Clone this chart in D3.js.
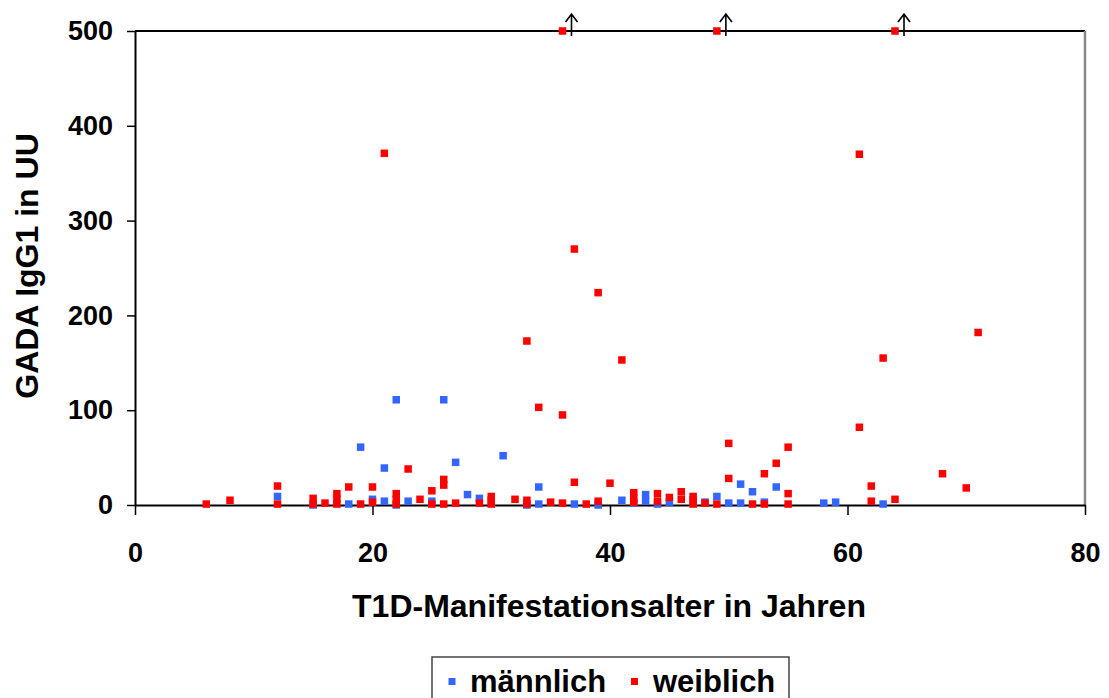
<!DOCTYPE html>
<html>
<head>
<meta charset="utf-8">
<script src="https://cdn.jsdelivr.net/npm/d3@7"></script>
<style>
  html, body { margin: 0; padding: 0; background: #fff; }
  svg { display: block; }
  text { font-family: "Liberation Sans", Arial, sans-serif; font-weight: bold; fill: #000; }
</style>
</head>
<body>
<svg id="chart" width="1109" height="698"></svg>
<script>
// Age at T1D manifestation (years) and GADA IgG1 (UU), per sex
const maleAge = [12, 15, 18, 19, 20, 21, 21, 22, 22, 23, 25, 26, 27, 28, 29, 31, 33, 34, 34, 37, 39,
                 41, 42, 43, 43, 44, 45, 48, 49, 50, 51, 51, 52, 53, 54, 58, 59, 63];
const maleValue = [9, 0, 1, 61, 6, 39, 4, 111, 0, 4, 4, 111, 45, 11, 7, 52, 0, 19, 1, 1, 0,
                   5, 2, 11, 4, 1, 3, 3, 9, 2, 22, 2, 14, 3, 19, 2, 3, 1];

const femaleAge = [6, 8, 12, 12, 15, 15, 16, 17, 17, 17, 18, 19, 20, 20, 21, 22, 22, 22, 23, 24,
                   25, 25, 26, 26, 26, 27, 29, 30, 30, 30, 32, 33, 33, 33, 34, 35, 36, 36, 36,
                   37, 37, 38, 39, 39, 40, 41, 42, 42, 42, 44, 44, 45, 46, 46, 47, 47, 47, 48,
                   49, 49, 50, 50, 52, 53, 53, 54, 55, 55, 55, 61, 61, 62, 62, 63, 64, 64, 68, 70, 71];
const femaleValue = [1, 5, 20, 1, 7, 1, 2, 12, 6, 1, 19, 1, 19, 3, 371, 12, 6, 1, 38, 6,
                     15, 1, 27, 21, 1, 2, 2, 9, 5, 1, 6, 173, 5, 1, 103, 3, 500, 95, 2,
                     270, 24, 1, 224, 4, 23, 153, 13, 7, 3, 12, 4, 8, 14, 6, 9, 5, 1, 2,
                     500, 1, 65, 28, 1, 33, 1, 44, 61, 12, 1, 370, 82, 20, 4, 155, 500, 6, 33, 18, 182];

const seriesNames = ["männlich", "weiblich"];
const seriesColors = ["#3366FF", "#FF0000"];

const xTicks = [0, 20, 40, 60, 80];
const yTicks = [0, 100, 200, 300, 400, 500];
const xTitle = "T1D-Manifestationsalter in Jahren";
const yTitle = "GADA IgG1 in UU";
const valueCap = 500; // values at the cap are drawn with an upward arrow

const svg = d3.select("#chart");
const plotLeft = 135, plotRight = 1085, plotTop = 31, plotBottom = 505;

const x = d3.scaleLinear().domain([0, 80]).range([plotLeft, plotRight]);
const y = d3.scaleLinear().domain([0, 500]).range([plotBottom, plotTop]);

// plot frame: top and right edges
svg.append("line").attr("x1", plotLeft).attr("x2", plotRight).attr("y1", plotTop).attr("y2", plotTop)
  .attr("stroke", "#000").attr("stroke-width", 2);
svg.append("line").attr("x1", plotRight).attr("x2", plotRight).attr("y1", plotTop).attr("y2", plotBottom)
  .attr("stroke", "#888").attr("stroke-width", 2.5);

// axes
const xAxis = svg.append("g").attr("transform", `translate(0,${plotBottom})`)
  .call(d3.axisBottom(x).tickValues(xTicks).tickSize(10).tickSizeOuter(0).tickPadding(28).tickFormat(d3.format("d")));
const yAxis = svg.append("g").attr("transform", `translate(${plotLeft},0)`)
  .call(d3.axisLeft(y).tickValues(yTicks).tickSize(8).tickSizeOuter(0).tickPadding(14).tickFormat(d3.format("d")));

[xAxis, yAxis].forEach(g => {
  g.select(".domain").attr("stroke", "#000").attr("stroke-width", 2);
  g.selectAll(".tick line").attr("stroke", "#000").attr("stroke-width", 1.5);
  g.selectAll(".tick text").style("font-size", "27px").style("font-family", "'Liberation Sans', Arial, sans-serif")
    .style("font-weight", "bold").attr("fill", "#000");
});

// axis titles
svg.append("text").attr("x", (plotLeft + plotRight) / 2 - 1).attr("y", 617)
  .attr("text-anchor", "middle").style("font-size", "32px").text(xTitle);
svg.append("text").attr("transform", "translate(38,266) rotate(-90)")
  .attr("text-anchor", "middle").style("font-size", "32px").text(yTitle);

// markers
const ms = 7.5;
const series = [
  { ages: maleAge, values: maleValue, color: seriesColors[0] },
  { ages: femaleAge, values: femaleValue, color: seriesColors[1] }
];
series.forEach(s => {
  const pts = s.ages.map((a, i) => ({ age: a, value: s.values[i] }));
  svg.append("g").selectAll("rect").data(pts).join("rect")
    .attr("x", d => x(d.age) - ms / 2)
    .attr("y", d => y(d.value) - ms / 2)
    .attr("width", ms).attr("height", ms)
    .attr("fill", s.color);
  // arrows marking values beyond the axis maximum
  svg.append("g").selectAll("path").data(pts.filter(d => d.value >= valueCap)).join("path")
    .attr("d", d => {
      const ax = x(d.age) + 9, y0 = y(d.value) + 5, y1 = y(d.value) - 17;
      return `M${ax},${y0}L${ax},${y1}M${ax - 6},${y1 + 8}L${ax},${y1}L${ax + 6},${y1 + 8}`;
    })
    .attr("fill", "none").attr("stroke", "#000").attr("stroke-width", 1.6);
});

// legend
const legend = svg.append("g");
legend.append("rect").attr("x", 432).attr("y", 657).attr("width", 357).attr("height", 60)
  .attr("fill", "#fff").attr("stroke", "#444").attr("stroke-width", 1.5);
const legendItems = [
  { name: seriesNames[0], color: seriesColors[0], mx: 452, tx: 470 },
  { name: seriesNames[1], color: seriesColors[1], mx: 634.5, tx: 653 }
];
legendItems.forEach(it => {
  legend.append("rect").attr("x", it.mx - 3.5).attr("y", 678).attr("width", 7).attr("height", 7).attr("fill", it.color);
  legend.append("text").attr("x", it.tx).attr("y", 692).style("font-size", "31px").text(it.name);
});
</script>
</body>
</html>
